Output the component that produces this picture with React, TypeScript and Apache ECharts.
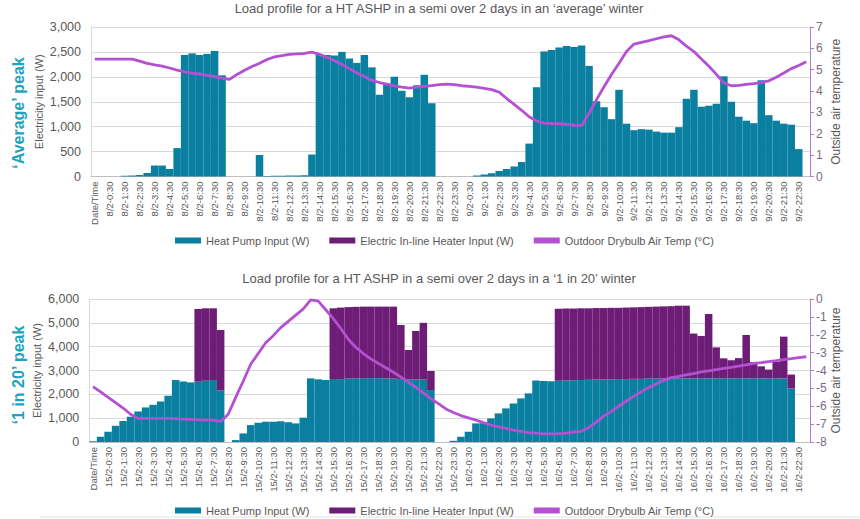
import React, { useEffect, useRef } from "react";
import * as echarts from "echarts";

function makeCats(d1: string, d2: string): string[] {
  const c: string[] = ["Date/Time"];
  for (let h = 0; h < 24; h++) c.push(`${d1}-${h}:00`, `${d1}-${h}:30`);
  for (let h = 0; h < 24; h++) c.push(`${d2}-${h}:00`, `${d2}-${h}:30`);
  return c.slice(0, 96);
}

const catsTop = makeCats("8/2", "9/2");
const catsBottom = makeCats("15/2", "16/2");

const NAME_HP = "Heat Pump Input (W)";
const NAME_EH = "Electric In-line Heater Input (W)";
const NAME_T = "Outdoor Drybulb Air Temp (°C)";

const titleTop = "Load profile for a HT ASHP in a semi over 2 days in an ‘average’ winter";
const titleBottom = "Load profile for a HT ASHP in a semi over 2 days in a ‘1 in 20’ winter";

const leftTicksTop = { min: 0, max: 3000, interval: 500 };
const rightTicksTop = { min: 0, max: 7, interval: 1 };
const leftTicksBottom = { min: 0, max: 6000, interval: 1000 };
const rightTicksBottom = { min: -8, max: 0, interval: 1 };

// 'Average' winter
const hpTop = [
  0, 0, 0, 0, 15, 20, 30, 70, 220, 220,
  150, 570, 2440, 2470, 2440, 2460, 2520, 2030, 0, 0,
  0, 0, 430, 10, 15, 15, 20, 20, 25, 440,
  2460, 2440, 2430, 2500, 2370, 2280, 2440, 2190, 1640, 1860,
  2000, 1720, 1590, 1830, 2040, 1470, 0, 0, 0, 0,
  0, 20, 40, 65, 110, 150, 200, 290, 660, 1790,
  2510, 2540, 2590, 2620, 2600, 2630, 2220, 1510, 1390, 1150,
  1740, 1060, 930, 950, 940, 900, 880, 880, 990, 1560,
  1740, 1400, 1420, 1460, 2010, 1500, 1200, 1120, 1070, 1930,
  1230, 1120, 1060, 1040, 550, 0,
];
const ehTop: number[] = [];
const tempTop = [
  5.5, 5.5, 5.5, 5.5, 5.5, 5.5, 5.4, 5.3, 5.23, 5.17,
  5.08, 4.98, 4.9, 4.84, 4.8, 4.74, 4.68, 4.6, 4.55, 4.78,
  4.97, 5.15, 5.3, 5.48, 5.6, 5.66, 5.72, 5.74, 5.76, 5.82,
  5.72, 5.58, 5.42, 5.25, 5.05, 4.85, 4.68, 4.5, 4.4, 4.32,
  4.24, 4.18, 4.14, 4.18, 4.22, 4.26, 4.3, 4.33, 4.3, 4.25,
  4.22, 4.18, 4.13, 4.07, 3.95, 3.65, 3.38, 3.1, 2.8, 2.6,
  2.5, 2.48, 2.47, 2.44, 2.4, 2.38, 2.95, 3.6, 4.2, 4.78,
  5.3, 5.85, 6.2, 6.28, 6.36, 6.45, 6.54, 6.59, 6.4, 6.1,
  5.85, 5.5, 5.16, 4.78, 4.38, 4.25, 4.27, 4.31, 4.35, 4.4,
  4.48, 4.65, 4.85, 5.05, 5.2, 5.37,
];

// '1 in 20' winter
const hpBottom = [
  30, 220, 430, 680, 880, 1060, 1280, 1450, 1560, 1700,
  1940, 2600, 2540, 2500, 2530, 2570, 2600, 2160, 0, 80,
  360, 710, 810, 850, 850, 870, 830, 780, 1020, 2670,
  2630, 2600, 2610, 2640, 2660, 2670, 2680, 2680, 2680, 2670,
  2660, 2640, 2630, 2620, 2620, 2180, 0, 0, 50, 220,
  430, 780, 790, 990, 1200, 1410, 1620, 1830, 2040, 2580,
  2560, 2550, 2570, 2580, 2590, 2600, 2610, 2620, 2620, 2630,
  2640, 2640, 2650, 2650, 2660, 2660, 2670, 2670, 2670, 2670,
  2670, 2670, 2670, 2670, 2670, 2670, 2670, 2670, 2670, 2670,
  2670, 2670, 2670, 2250, 0, 0,
];
const ehBottom = [
  0, 0, 0, 0, 0, 0, 0, 0, 0, 0,
  0, 0, 0, 0, 3050, 3040, 3010, 2540, 0, 0,
  0, 0, 0, 0, 0, 0, 0, 0, 0, 0,
  0, 0, 3000, 3000, 3000, 3000, 3000, 3000, 3000, 3010,
  3020, 2270, 1230, 2040, 2380, 800, 0, 0, 0, 0,
  0, 0, 0, 0, 0, 0, 0, 0, 0, 0,
  0, 0, 3020, 3020, 3010, 3010, 3000, 3000, 3000, 3000,
  2990, 3000, 3000, 3010, 3010, 3020, 3020, 3030, 3050, 3050,
  1880, 1780, 2700, 1300, 840, 760, 850, 1820, 680, 505,
  370, 700, 1750, 580, 0, 0,
];
const tempBottom = [
  -4.9, -5.2, -5.5, -5.8, -6.1, -6.45, -6.68, -6.68, -6.68, -6.68,
  -6.68, -6.7, -6.72, -6.73, -6.76, -6.77, -6.78, -6.85, -6.45, -5.5,
  -4.6, -3.65, -3.05, -2.45, -2.05, -1.6, -1.25, -0.9, -0.55, -0.05,
  -0.12, -0.6, -1.1, -1.65, -2.25, -2.7, -3.05, -3.35, -3.6, -3.85,
  -4.1, -4.37, -4.65, -4.95, -5.25, -5.58, -5.85, -6.15, -6.35, -6.52,
  -6.65, -6.78, -6.92, -7.05, -7.15, -7.24, -7.33, -7.4, -7.47, -7.5,
  -7.54, -7.55, -7.53, -7.5, -7.44, -7.4, -7.2, -6.9, -6.55, -6.3,
  -6.0, -5.72, -5.45, -5.2, -4.95, -4.75, -4.55, -4.4, -4.33, -4.25,
  -4.17, -4.08, -4.02, -3.95, -3.88, -3.82, -3.75, -3.68, -3.6, -3.56,
  -3.5, -3.45, -3.39, -3.34, -3.28, -3.23,
];

const DAY_BREAK_INDEX = 48;

const FONT = "'Liberation Sans', Arial, sans-serif";
const GRAY = "#595959";
const TEAL = "#0b7f9f";
const PURPLE = "#6e1d77";
const LINE = "#b351d2";
const RIGHT_AXIS = "#b07cc6";
const GRID_LINE = "#d9d9d9";

function buildOption() {
  const fmt = (v: number) => v.toLocaleString("en-US");
  const xAxisBase = (gridIndex: number, data: string[]) => ({
    type: "category",
    gridIndex,
    data,
    boundaryGap: true,
    axisTick: { show: false },
    axisLine: { show: true, lineStyle: { color: "#bfbfbf" } },
    axisLabel: { interval: 1, rotate: 90, fontSize: 9.5, color: GRAY, margin: 5, fontFamily: FONT },
    splitLine: {
      show: true,
      interval: (i: number) => i === DAY_BREAK_INDEX,
      lineStyle: { color: GRID_LINE, width: 1 },
    },
  });
  const leftAxis = (gridIndex: number, t: any) => ({
    type: "value",
    gridIndex,
    position: "left",
    min: t.min,
    max: t.max,
    interval: t.interval,
    name: "Electricity input (W)",
    nameLocation: "middle",
    nameGap: 47,
    nameMoveOverlap: false,
    nameTextStyle: { fontSize: 11, color: GRAY, fontFamily: FONT },
    axisLabel: { formatter: fmt, fontSize: 12.5, color: GRAY, margin: 10, fontFamily: FONT },
    axisLine: { show: true, lineStyle: { color: GRID_LINE } },
    axisTick: { show: false },
    splitLine: { show: true, lineStyle: { color: GRID_LINE } },
  });
  const rightAxis = (gridIndex: number, t: any) => ({
    type: "value",
    gridIndex,
    position: "right",
    min: t.min,
    max: t.max,
    interval: t.interval,
    name: "Outside air temperature",
    nameLocation: "middle",
    nameRotate: 90,
    nameGap: 20,
    nameMoveOverlap: false,
    nameTextStyle: { fontSize: 12, color: GRAY, fontFamily: FONT },
    axisLabel: { fontSize: 12, color: "#7a6a80", margin: 6, fontFamily: FONT },
    axisLine: { show: true, lineStyle: { color: RIGHT_AXIS, width: 1 } },
    axisTick: { show: true, length: 4, lineStyle: { color: RIGHT_AXIS } },
    splitLine: { show: false },
  });
  const legendBase = (top: number) => ({
    left: 175,
    top,
    itemWidth: 26,
    itemHeight: 6,
    itemGap: 20,
    padding: 0,
    textStyle: { fontSize: 11, color: GRAY, fontFamily: FONT },
    data: [
      { name: NAME_HP, icon: "rect" },
      { name: NAME_EH, icon: "rect" },
      { name: NAME_T, icon: "rect", itemStyle: { color: LINE } },
    ],
  });
  const barSeries = (name: string, color: string, xi: number, yi: number, data: number[]) => ({
    name,
    type: "bar",
    xAxisIndex: xi,
    yAxisIndex: yi,
    stack: "load" + xi,
    barCategoryGap: "0%",
    itemStyle: { color },
    data,
  });
  const lineSeries = (xi: number, yi: number, data: number[]) => ({
    name: NAME_T,
    type: "line",
    xAxisIndex: xi,
    yAxisIndex: yi,
    symbol: "none",
    showSymbol: false,
    lineStyle: { color: LINE, width: 2.8 },
    itemStyle: { color: LINE },
    z: 5,
    data,
  });
  return {
    animation: false,
    backgroundColor: "#ffffff",
    textStyle: { fontFamily: FONT },
    title: [
      {
        text: titleTop,
        left: 439,
        top: 2,
        textAlign: "center",
        padding: 0,
        textStyle: { fontSize: 13, fontWeight: "normal", color: GRAY, fontFamily: FONT },
      },
      {
        text: titleBottom,
        left: 439,
        top: 272,
        textAlign: "center",
        padding: 0,
        textStyle: { fontSize: 13, fontWeight: "normal", color: GRAY, fontFamily: FONT },
      },
    ],
    legend: [legendBase(235), legendBase(505)],
    grid: [
      { left: 91, top: 27, width: 719, height: 149.5, containLabel: false },
      { left: 89.3, top: 299, width: 720.7, height: 143, containLabel: false },
    ],
    xAxis: [xAxisBase(0, catsTop), xAxisBase(1, catsBottom)],
    yAxis: [
      leftAxis(0, leftTicksTop),
      rightAxis(0, rightTicksTop),
      leftAxis(1, leftTicksBottom),
      rightAxis(1, rightTicksBottom),
    ],
    series: [
      barSeries(NAME_HP, TEAL, 0, 0, hpTop),
      barSeries(NAME_EH, PURPLE, 0, 0, ehTop),
      lineSeries(0, 1, tempTop),
      barSeries(NAME_HP, TEAL, 1, 2, hpBottom),
      barSeries(NAME_EH, PURPLE, 1, 2, ehBottom),
      lineSeries(1, 3, tempBottom),
    ],
    graphic: [
      {
        type: "text",
        x: 18,
        y: 113,
        rotation: Math.PI / 2,
        style: {
          text: "‘Average’ peak",
          fontSize: 16,
          fontWeight: "bold",
          fontFamily: FONT,
          fill: "#1fa3bf",
          align: "center",
          verticalAlign: "middle",
        },
      },
      {
        type: "text",
        x: 18,
        y: 375,
        rotation: Math.PI / 2,
        style: {
          text: "‘1 in 20’ peak",
          fontSize: 16,
          fontWeight: "bold",
          fontFamily: FONT,
          fill: "#1fa3bf",
          align: "center",
          verticalAlign: "middle",
        },
      },
      {
        type: "line",
        shape: { x1: 40, y1: 517, x2: 860, y2: 517 },
        style: { stroke: "#e3e3e3", lineWidth: 1 },
      },
    ],
  };
}

export default function App() {
  const ref = useRef<HTMLDivElement>(null);
  useEffect(() => {
    document.body.style.margin = "0";
    if (!ref.current) return;
    const chart = echarts.init(ref.current, undefined, { renderer: "svg" });
    chart.setOption(buildOption() as any);
    return () => chart.dispose();
  }, []);
  return (
    <div
      ref={ref}
      style={{ position: "fixed", left: 0, top: 0, width: 860, height: 519, background: "#fff" }}
    />
  );
}
